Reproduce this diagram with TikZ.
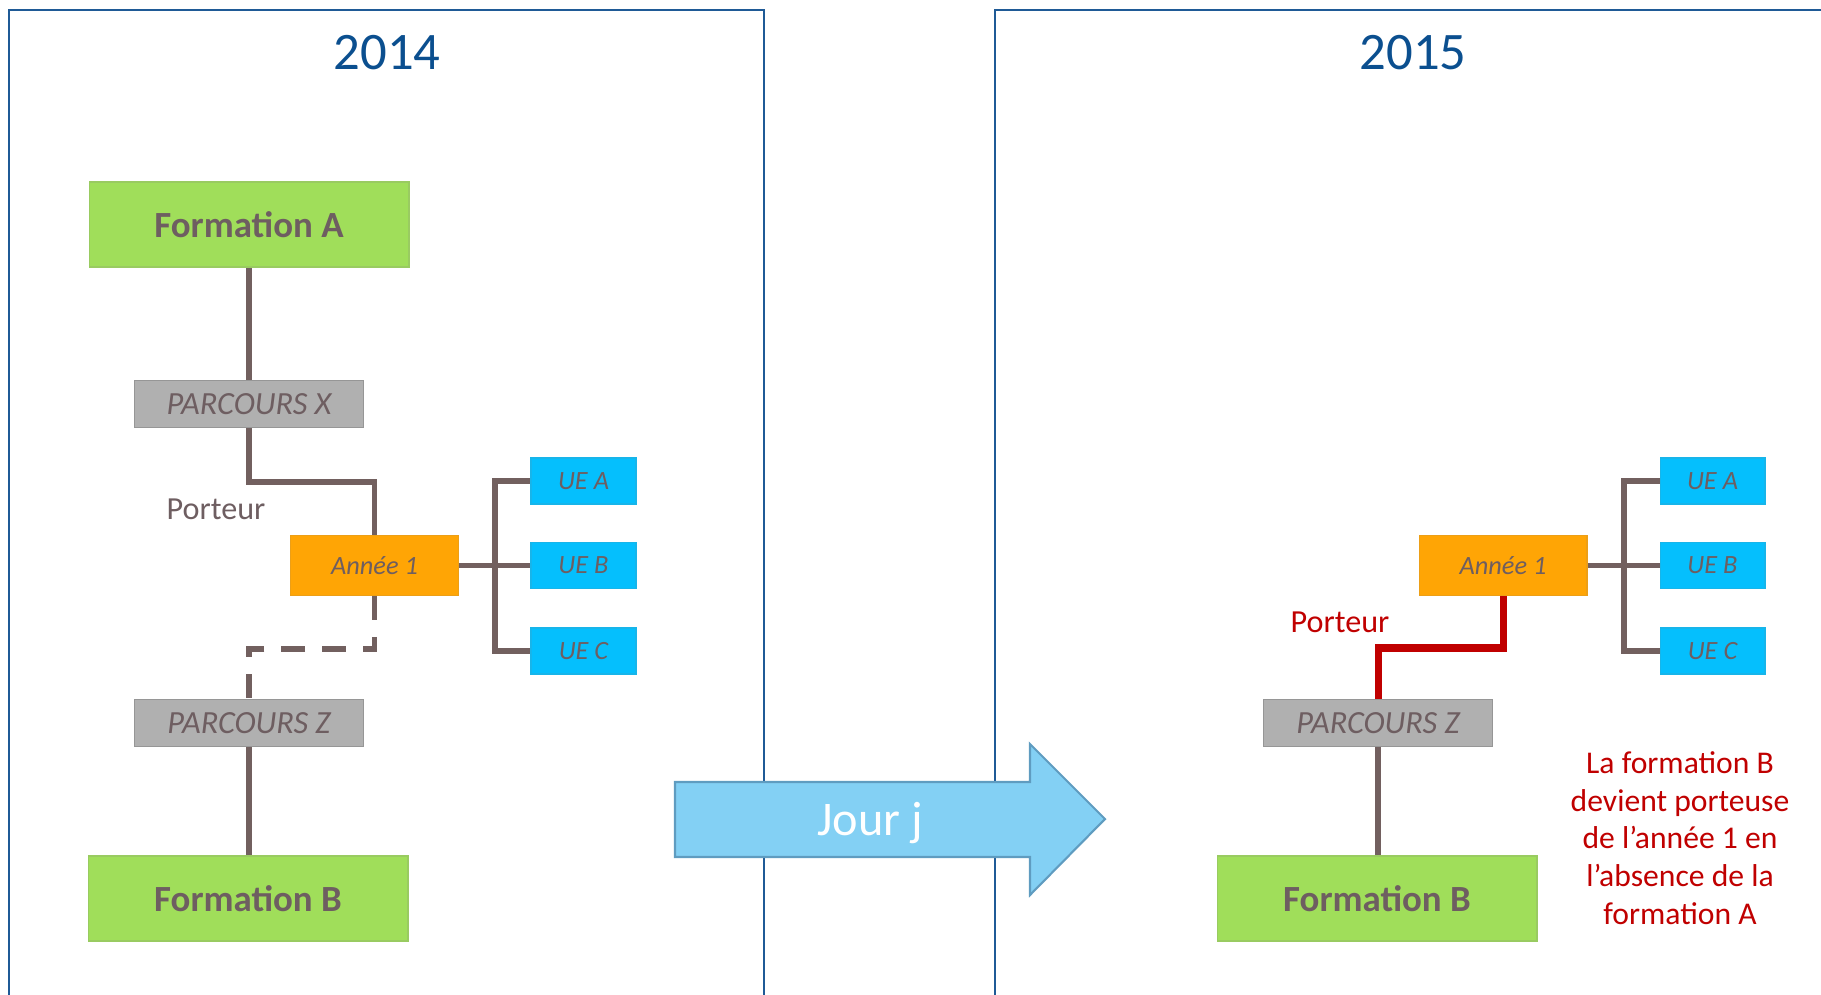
\documentclass[tikz,border=0pt]{standalone}
\usepackage{fontspec}
\setmainfont{Carlito}
\usetikzlibrary{positioning}
\definecolor{framebl}{HTML}{1F5A96}
\definecolor{titlebl}{HTML}{0B4F8F}
\definecolor{formgr}{HTML}{A0DE5A}
\definecolor{parcgr}{HTML}{B0B0B0}
\definecolor{anneor}{HTML}{FFA505}
\definecolor{uebl}{HTML}{05BFFD}
\definecolor{txtgr}{HTML}{6E5E61}
\definecolor{linkgr}{HTML}{72605F}
\definecolor{portred}{HTML}{C00000}
\definecolor{jourbl}{HTML}{83D0F4}
\definecolor{jouredge}{HTML}{5F9CC0}
\tikzset{
 box/.style={draw, line width=0.6pt, inner sep=0pt, text=txtgr},
 formation/.style={box, fill=formgr, draw=formgr!80!gray, minimum width=6.4cm, minimum height=1.7cm, font=\fontsize{21}{25}\selectfont\bfseries},
 parcours/.style={box, fill=parcgr, draw=parcgr!85!black, minimum width=4.58cm, minimum height=0.94cm, font=\fontsize{18.4}{22}\selectfont\itshape},
 annee/.style={box, fill=anneor, draw=anneor!85!gray, minimum width=3.36cm, minimum height=1.2cm, font=\fontsize{15}{18}\selectfont\itshape},
 ue/.style={box, fill=uebl, draw=uebl!85!gray, minimum width=2.1cm, minimum height=0.92cm, font=\fontsize{15}{18}\selectfont\itshape},
 link/.style={draw=linkgr, line width=3.2pt},
 porteurlink/.style={link, draw=portred, line width=4pt},
 frame/.style={draw=framebl, line width=1.5pt},
 year/.style={text=titlebl, font=\fontsize{30}{36}\selectfont},
 porteurtxt/.style={font=\fontsize{18.3}{22}\selectfont},
}
\begin{document}
\begin{tikzpicture}[x=0.02cm,y=-0.02cm]
 \useasboundingbox (0,0) rectangle (1821,994);
 % frames
 \draw[frame] (9,1000) |- (764,10) -- (764,1000);
 \draw[frame] (995,1000) |- (1840,10);

 % 2014
 \node[year] (y14) at (387,53) {2014};
 \node[formation] (fa) at (249,224.5) {Formation A};
 \node[parcours] (px) at (249,404) {PARCOURS X};
 \node[annee] (an) at (374.5,565.5) {Année 1};
 \node[parcours] (pz) at (249,723) {PARCOURS Z};
 \node[formation] (fb) at (248,898.5) {Formation B};
 \node[ue] (ua) at (583.5,481) {UE A};
 \node[ue] (ub) at (583.5,565.5) {UE B};
 \node[ue] (uc) at (583.5,651) {UE C};
 \node[porteurtxt, text=txtgr] (pl) at (216,509) {Porteur};

 % 2015
 \node[year] (y15) at (1413,53) {2015};
 \node[annee] (an2) at (1503,565.5) {Année 1};
 \node[parcours] (pz2) at (1378,723) {PARCOURS Z};
 \node[formation] (fb2) at (1377,898.5) {Formation B};
 \node[ue] (ua2) at (1712.5,481) {UE A};
 \node[ue] (ub2) at (1712.5,565.5) {UE B};
 \node[ue] (uc2) at (1712.5,651) {UE C};
 \node[porteurtxt, text=portred] (pr) at (1340,622) {Porteur};
 \node[text=portred, align=center, font=\fontsize{18}{21.5}\selectfont] (note) at (1680,838)
  {La formation B\\devient porteuse\\de l’année 1 en\\l’absence de la\\formation A};

 % coordinates
 \coordinate (kx) at (374.5,482);
 \coordinate (kz) at (249,649);
 \coordinate (kr) at (1503,648);
 \coordinate (bus) at (495,565.5);
 \coordinate (bus2) at (1624,565.5);

 % connectors
 \draw[link] (fa.south |- px.north) -- (fa.south);
 \draw[link] (px.south) |- (kx) -- (an.north);
 \draw[link, dash pattern=on 13.6pt off 9.6pt] (an.south) |- (kz) -- (pz.north);
 \draw[link] (pz.south) -- (pz.south |- fb.north);
 \draw[link] (an.east) -- (bus);
 \foreach \u in {ua,ub,uc} {
  \draw[link] (bus) |- (\u.west);
 };
 \draw[porteurlink] (an2.south) -- (kr) -| (pz2.north);
 \draw[link] (pz2.south) -- (pz2.south |- fb2.north);
 \draw[link] (an2.east) -- (bus2);
 \foreach \u in {ua2,ub2,uc2} {
  \draw[link] (bus2) |- (\u.west);
 };

 % jour j
 \draw[fill=jourbl, draw=jouredge, line width=1.2pt] (675,782) -- (1030,782) -- (1030,744) -- (1105,819)
  -- (1030,895) -- (1030,857) -- (675,857) -- cycle;
 \node[text=white, font=\fontsize{27.5}{32}\selectfont] (jj) at (870,823) {Jour j};
\end{tikzpicture}
\end{document}
